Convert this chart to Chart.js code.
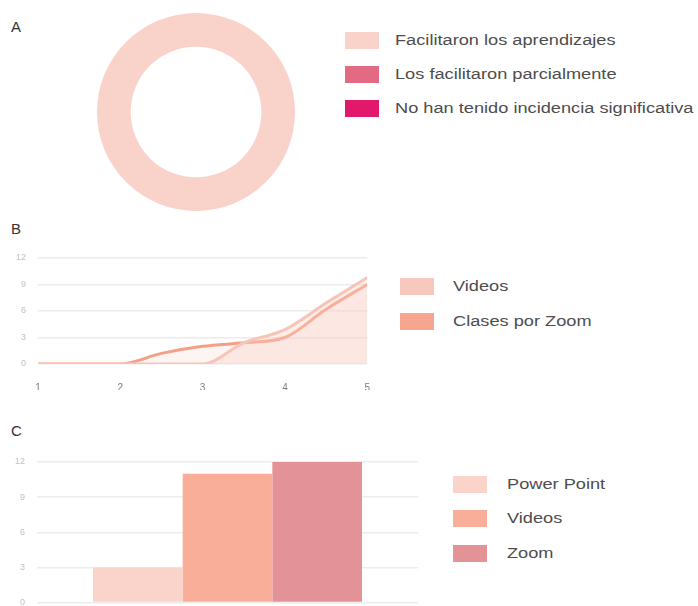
<!DOCTYPE html>
<html>
<head>
<meta charset="utf-8">
<script src="https://cdn.jsdelivr.net/npm/chart.js@4/dist/chart.umd.min.js"></script>
<style>
    html, body { margin: 0; padding: 0; background: #fff; }
    body { width: 698px; height: 606px; position: relative; overflow: hidden; font-family: "Liberation Sans", Arial, sans-serif; }
    .box { position: absolute; }
    .panel { position: absolute; left: 11px; font-size: 15px; color: #333; }
    .legend { position: absolute; margin: 0; padding: 0; list-style: none; }
    .legend li { position: absolute; left: 0; height: 17px; white-space: nowrap; }
    .legend i { position: absolute; left: 0; top: 0; width: 34px; height: 17px; }
    .legend span { position: absolute; top: -1px; font-size: 14px; line-height: 19px; color: #4d4d4d; transform: scaleX(1.3); transform-origin: left center; }
</style>
</head>
<body>
<div class="panel" style="top:18px">A</div>
<div class="panel" style="top:220px">B</div>
<div class="panel" style="top:422px">C</div>

<div class="box" style="left:97px; top:13px; width:198px; height:198px"><canvas id="donut"></canvas></div>
<div class="box" style="left:0; top:240px; width:380px; height:150px"><canvas id="line"></canvas></div>
<div class="box" style="left:0; top:440px; width:430px; height:180px"><canvas id="bar"></canvas></div>

<ul class="legend" id="legendA" style="left:345px; top:0"></ul>
<ul class="legend" id="legendB" style="left:400px; top:0"></ul>
<ul class="legend" id="legendC" style="left:453px; top:0"></ul>

<script>
"use strict";

// A: opinion on the tools
const donutLabels = ["Facilitaron los aprendizajes", "Los facilitaron parcialmente", "No han tenido incidencia significativa"];
const donutValues = [12, 0, 0];
const donutColors = ["#f9d3c9", "#e26b83", "#e2186b"];

// B: rating 1..5 per tool
const lineSeries = ["Videos", "Clases por Zoom"];
const lineX = [1, 1.5, 2, 2.5, 3, 3.5, 4, 4.5, 5];
const videosValues = [0, 0, 0, 0, 0, 2.4, 3.9, 6.9, 9.8];
const zoomValues = [0, 0, 0, 1.2, 2, 2.4, 3, 6.2, 9];
const lineColors = ["#f7c4b8", "#f5a086"];
const lineSwatches = ["#f7c8bd", "#f6a68f"];

// C: tools used
const barSeries = ["Power Point", "Videos", "Zoom"];
const barValues = [3, 11, 12];
const barColors = ["#fad4cb", "#f9ae99", "#e39398"];

const yTicks = [0, 3, 6, 9, 12];
const xTicks = [1, 2, 3, 4, 5];

const GRID = "#ececec";
const TICK_FONT = { family: "Liberation Sans", size: 9 };

Chart.defaults.animation = false;
Chart.defaults.responsive = true;
Chart.defaults.maintainAspectRatio = false;
Chart.defaults.plugins.legend.display = false;
Chart.defaults.plugins.tooltip.enabled = false;

function fixedWidth (w) {
    return scale => { scale.width = w; };
}

function valueAxis (tickPad, width) {
    return {
        min: yTicks[0],
        max: yTicks[yTicks.length - 1],
        afterFit: fixedWidth(width),
        afterBuildTicks: scale => { scale.ticks = yTicks.map(v => ({ value: v })); },
        grid: { color: GRID, lineWidth: 1.5, drawTicks: false },
        border: { display: false },
        ticks: { color: "#c0c0c0", font: TICK_FONT, padding: tickPad }
    };
}

function buildLegend (id, labels, colors, rows) {
    const ul = document.getElementById(id);
    const textLeft = { legendA: 50, legendB: 53, legendC: 54 }[id];

    labels.forEach((text, i) => {
        const li = document.createElement("li");
        const sw = document.createElement("i");
        const span = document.createElement("span");

        li.style.top = (rows[i] - 8) + "px";
        sw.style.background = colors[i];
        span.style.left = textLeft + "px";
        span.textContent = text;

        li.appendChild(sw);
        li.appendChild(span);
        ul.appendChild(li);
    });
}

new Chart(document.getElementById("donut"), {
    type: "doughnut",
    data: {
        labels: donutLabels,
        datasets: [{
            data: donutValues,
            backgroundColor: donutColors,
            borderWidth: 0
        }]
    },
    options: {
        cutout: "66%",
        layout: { padding: 0 }
    }
});

new Chart(document.getElementById("line"), {
    type: "line",
    data: {
        datasets: [{
            label: lineSeries[0],
            data: lineX.map((x, i) => ({ x, y: videosValues[i] })),
            borderColor: lineColors[0],
            backgroundColor: "rgba(249, 205, 194, 0.35)",
            fill: "origin",
            borderWidth: 3,
            pointRadius: 0,
            cubicInterpolationMode: "monotone"
        }, {
            label: lineSeries[1],
            data: lineX.map((x, i) => ({ x, y: zoomValues[i] })),
            borderColor: lineColors[1],
            backgroundColor: "rgba(249, 200, 186, 0.18)",
            fill: "origin",
            borderWidth: 3,
            pointRadius: 0,
            cubicInterpolationMode: "monotone"
        }]
    },
    options: {
        layout: { padding: { top: 18, right: 10, left: 0, bottom: 0 } },
        scales: {
            x: {
                type: "linear",
                min: 1,
                max: 5,
                afterFit: scale => { scale.height = 26; },
                afterBuildTicks: scale => { scale.ticks = xTicks.map(v => ({ value: v })); },
                grid: { display: false },
                border: { display: false },
                ticks: { color: "#7d7d7d", font: { family: "Liberation Sans", size: 10 }, padding: 10 }
            },
            y: valueAxis(12, 38)
        }
    }
});

new Chart(document.getElementById("bar"), {
    type: "bar",
    data: {
        labels: [""],
        datasets: barSeries.map((name, i) => ({
            label: name,
            data: [barValues[i]],
            backgroundColor: barColors[i],
            borderWidth: 0
        }))
    },
    options: {
        layout: { padding: { top: 22, right: 12, left: 0, bottom: 16 } },
        datasets: { bar: { categoryPercentage: 0.706, barPercentage: 1 } },
        scales: {
            x: { display: false },
            y: valueAxis(12, 37)
        }
    }
});

buildLegend("legendA", donutLabels, donutColors, [40, 74, 108]);
buildLegend("legendB", lineSeries, lineSwatches, [286, 321]);
buildLegend("legendC", barSeries, barColors, [484, 518, 553]);
</script>
</body>
</html>
